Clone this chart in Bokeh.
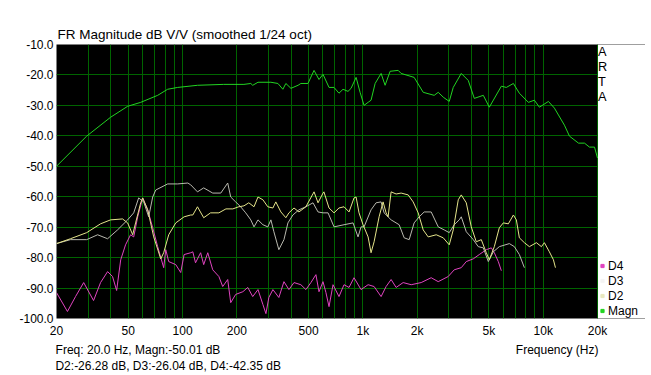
from bokeh.plotting import figure
from bokeh.models import (Range1d, FixedTicker, PrintfTickFormatter, Title, LogAxis,
                          Legend, LegendItem, BoxAnnotation)
from bokeh.embed import file_html
from bokeh.resources import INLINE

# ---------------- data ----------------
magn_freq = [20, 29.4, 39.9, 49.6, 58.6, 72.8, 82.7, 94.0, 121, 169, 219, 239, 245, 262,
             309, 338, 360, 374, 399, 437, 453, 496, 536, 571, 601, 649, 692, 737, 776,
             827, 860, 917, 965, 1015, 1069, 1110, 1169, 1262, 1328, 1416, 1569, 1630,
             1924, 2160, 2486, 2617, 2790, 3012, 3170, 3512, 3840, 4148, 4654, 5024,
             5858, 6245, 6832, 7375, 8274, 8934, 9525, 10690, 11540, 13110, 13980,
             15690, 16940, 18050, 19250, 20000]
magn_db = [-50.0, -40.1, -33.9, -30.3, -29.0, -26.7, -24.7, -24.1, -23.4, -23.1, -23.1,
           -22.8, -23.4, -22.4, -22.4, -22.8, -24.7, -22.8, -24.4, -23.4, -22.8, -22.8,
           -18.5, -21.5, -19.8, -24.1, -24.1, -26.0, -24.7, -25.4, -24.4, -20.8, -25.7,
           -30.0, -29.0, -28.3, -22.8, -19.5, -23.4, -18.8, -18.5, -19.5, -20.8, -25.7,
           -26.7, -25.7, -27.3, -28.7, -24.1, -19.5, -21.8, -27.7, -26.7, -30.6, -23.7,
           -24.1, -22.8, -26.0, -29.0, -28.3, -30.6, -28.7, -30.9, -36.5, -40.1, -42.4,
           -42.4, -43.7, -43.7, -47.3]

d2_freq = [20, 23.9, 29.4, 35.1, 39.9, 46.5, 49.6, 52.9, 54.9, 58.6, 60.1, 64.1, 69.2,
           75.7, 78.6, 83.8, 91.7, 102, 111, 114, 121, 131, 143, 159, 174, 190, 205, 219,
           233, 249, 262, 279, 297, 317, 329, 351, 374, 389, 415, 442, 483, 536, 564, 601,
           608, 649, 692, 737, 786, 838, 893, 917, 952, 1002, 1069, 1110, 1154, 1230,
           1294, 1345, 1380, 1434, 1529, 1630, 1783, 1900, 2026, 2160, 2302, 2551, 2790,
           3012, 3170, 3380, 3512, 3744, 3991, 4254, 4535, 4834, 5024, 5356, 5708, 6010,
           6406, 6832, 7096, 7375, 7862, 8380, 9166, 9772, 10150, 10820, 11390, 11690]
d2_db = [-75.4, -73.8, -71.8, -68.9, -67.6, -67.3, -68.6, -72.5, -68.6, -62.0, -60.4,
         -64.3, -73.2, -80.4, -78.4, -72.5, -68.6, -66.6, -66.0, -66.0, -63.3, -66.9, -65.3,
         -65.3, -64.0, -64.0, -63.3, -63.0, -62.0, -63.3, -60.1, -61.0, -63.3, -63.7,
         -61.7, -65.0, -66.9, -65.3, -63.7, -65.0, -63.3, -58.4, -62.0, -58.8, -58.4,
         -63.7, -65.3, -63.7, -63.3, -65.0, -60.4, -60.1, -65.3, -69.2, -73.2, -78.4,
         -74.8, -66.6, -61.7, -65.3, -66.6, -58.4, -59.1, -58.8, -59.4, -61.7, -65.3,
         -70.9, -73.2, -72.5, -73.5, -75.8, -70.9, -61.0, -59.4, -62.0, -69.9, -74.8,
         -74.1, -78.4, -80.7, -76.4, -70.2, -68.6, -68.9, -66.0, -67.6, -73.5, -75.1,
         -76.4, -75.1, -76.4, -75.1, -78.1, -80.7, -83.3]

d3_freq = [20, 23.9, 29.4, 33.8, 38.4, 43.6, 49.6, 53.6, 57.1, 60.9, 64.9, 68.3, 71.0,
           82.7, 94.0, 107, 111, 121, 131, 147, 163, 178, 185, 197, 210, 224, 239, 249,
           262, 279, 297, 309, 321, 342, 365, 384, 409, 442, 483, 529, 564, 601, 641, 692,
           786, 882, 940, 977, 1015, 1110, 1184, 1262, 1311, 1434, 1589, 1694, 1806, 1924,
           2052, 2188, 2392, 2617, 2825, 3012, 3211, 3422, 3512, 3744, 4094, 4364, 4654,
           4960, 5288, 5708, 6488, 6918, 7375, 7862]
d3_db = [-75.4, -74.1, -74.1, -72.5, -73.8, -70.9, -67.6, -65.3, -60.4, -61.7, -66.6,
         -60.1, -57.8, -55.8, -55.8, -55.5, -56.1, -58.4, -57.1, -58.8, -58.8, -55.5,
         -60.1, -61.7, -63.3, -65.3, -67.6, -69.9, -67.6, -69.2, -69.9, -67.6, -71.5,
         -77.4, -74.1, -68.6, -66.0, -64.3, -63.3, -62.0, -65.0, -65.3, -65.3, -69.9,
         -69.2, -68.6, -73.2, -69.9, -69.9, -64.3, -62.0, -61.7, -65.3, -67.6, -69.2,
         -73.5, -74.1, -68.6, -66.6, -65.0, -65.0, -69.9, -70.9, -71.8, -69.2, -67.6,
         -66.6, -71.5, -74.1, -76.4, -76.8, -81.3, -78.1, -76.4, -75.4, -76.4, -79.0,
         -83.3]

d4_freq = [20, 23.0, 25.5, 28.3, 32.1, 35.1, 38.4, 40.9, 43.1, 45.4, 48.3, 51.5, 53.6,
           56.4, 60.1, 64.1, 68.3, 72.8, 78.6, 80.7, 83.8, 91.7, 97.7, 102, 111, 114, 118,
           126, 131, 138, 147, 159, 167, 178, 185, 197, 216, 230, 245, 262, 279, 290, 301,
           317, 342, 365, 389, 415, 453, 483, 515, 549, 571, 601, 624, 649, 683, 737, 786,
           838, 893, 977, 1069, 1154, 1262, 1345, 1434, 1529, 1672, 1853, 2105, 2392,
           2617, 2974, 3211, 3512, 3744, 4094, 4419, 4834, 5154, 5356, 5636, 5858]
d4_db = [-91.5, -97.7, -92.8, -88.2, -94.1, -88.2, -84.6, -86.2, -90.8, -80.7, -75.8,
         -72.5, -73.2, -66.6, -60.4, -64.3, -70.2, -76.4, -83.3, -77.4, -81.3, -82.3,
         -84.9, -79.0, -78.4, -78.1, -81.7, -78.4, -82.3, -78.4, -84.0, -86.2, -89.5,
         -87.2, -94.8, -92.1, -91.2, -89.8, -92.8, -90.5, -95.4, -98.4, -93.1, -90.5,
         -93.1, -87.9, -90.5, -88.2, -88.9, -90.5, -88.2, -85.6, -91.2, -87.9, -91.5,
         -96.1, -88.9, -92.8, -88.9, -89.8, -86.6, -90.5, -88.9, -89.5, -92.8, -89.5,
         -87.2, -89.8, -88.2, -88.9, -88.2, -86.6, -87.9, -86.2, -84.0, -83.3, -81.3,
         -80.4, -79.0, -77.4, -76.8, -78.4, -81.3, -84.3]

x_label_ticks = [20, 50, 100, 200, 500, 1000, 2000, 5000, 10000, 20000]
x_label_text = ["20", "50", "100", "200", "500", "1k", "2k", "5k", "10k", "20k"]
x_grid_ticks = [20, 30, 40, 50, 60, 70, 80, 90, 100, 200, 300, 400, 500, 600, 700, 800,
                900, 1000, 2000, 3000, 4000, 5000, 6000, 7000, 8000, 9000, 10000, 20000]
y_ticks = [-10, -20, -30, -40, -50, -60, -70, -80, -90, -100]
f_min, f_max = 20, 20000
db_min, db_max = -100, -10

title_text = "FR Magnitude dB V/V (smoothed 1/24 oct)"
info_line1 = "Freq: 20.0 Hz, Magn:-50.01 dB"
info_line2 = "D2:-26.28 dB, D3:-26.04 dB, D4:-42.35 dB"
x_title = "Frequency (Hz)"
brand = ["A", "R", "T", "A"]
legend_names = ["D4", "D3", "D2", "Magn"]

# ---------------- styles / layout ----------------
C_MAGN = "#22d422"
C_D2 = "#e4e48a"
C_D3 = "#b8b8ae"
C_D4 = "#e044c0"
C_GRID = "#006400"
FONT = "Liberation Sans"

FIG_W, FIG_H = 645, 375
LEFT, TOP, BOTTOM = 56, 44, 56
PLOT_W = 541                      # width of the black plotting area (px)
FRAME_W = FIG_W - LEFT            # frame also spans the white side strip
PX_PER_DEC = PLOT_W / 3.0
x_end = f_min * 10 ** (FRAME_W / PX_PER_DEC)
strip_left = f_max * 10 ** (0.5 / PX_PER_DEC)

def x_at(px):                     # layout helper: frame pixel -> x position
    return f_min * 10 ** (px / PX_PER_DEC)

p = figure(width=FIG_W, height=FIG_H, x_axis_type="log", output_backend="svg",
           toolbar_location=None, x_range=Range1d(f_min, x_end),
           y_range=Range1d(db_min, db_max),
           min_border_left=LEFT, min_border_right=0, min_border_top=TOP,
           min_border_bottom=BOTTOM)
p.background_fill_color = "black"
p.border_fill_color = "white"
p.outline_line_color = None

p.title = Title(text=title_text, align="left", offset=1, standoff=5,
                text_font=FONT, text_font_size="13.5px", text_font_style="normal",
                text_color="black")

def style_axis(ax, standoff):
    ax.axis_line_color = None
    ax.major_tick_line_color = None
    ax.minor_tick_line_color = None
    ax.major_tick_out = 0
    ax.major_tick_in = 0
    ax.minor_tick_out = 0
    ax.minor_tick_in = 0
    ax.major_label_text_font = FONT
    ax.major_label_text_font_size = "12px"
    ax.major_label_text_color = "black"
    ax.major_label_standoff = standoff

style_axis(p.xaxis[0], 5)
style_axis(p.yaxis[0], 3)
p.xaxis.ticker = FixedTicker(ticks=x_label_ticks, minor_ticks=[])
p.xaxis.major_label_overrides = {t: s for t, s in zip(x_label_ticks, x_label_text)}
p.yaxis.ticker = FixedTicker(ticks=y_ticks, minor_ticks=[])
p.yaxis.formatter = PrintfTickFormatter(format="%.1f")

# text rows under the x axis (labels centred on layout positions)
info_pos = x_at(81.5)
xtitle_pos = x_at(500.7)
line2_pos = x_at(111.7)
row1 = LogAxis(ticker=FixedTicker(ticks=[info_pos, xtitle_pos], minor_ticks=[]),
               major_label_overrides={info_pos: info_line1, xtitle_pos: x_title})
style_axis(row1, 2)
p.add_layout(row1, "below")
row2 = LogAxis(ticker=FixedTicker(ticks=[line2_pos], minor_ticks=[]),
               major_label_overrides={line2_pos: info_line2})
style_axis(row2, -1)
p.add_layout(row2, "below")

p.xgrid.ticker = FixedTicker(ticks=x_grid_ticks, minor_ticks=[])
p.ygrid.ticker = FixedTicker(ticks=y_ticks, minor_ticks=[])
for g in (p.xgrid[0], p.ygrid[0]):
    g.grid_line_color = C_GRID
    g.grid_line_width = 1

# white strip right of 20 kHz (holds the ARTA mark and the legend)
p.add_layout(BoxAnnotation(left=strip_left, fill_color="white", fill_alpha=1,
                           line_color=None, level="underlay"))

# curves
p.line(d4_freq, d4_db, line_color=C_D4, line_width=1)
p.line(d3_freq, d3_db, line_color=C_D3, line_width=1)
p.line(d2_freq, d2_db, line_color=C_D2, line_width=1)
p.line(magn_freq, magn_db, line_color=C_MAGN, line_width=1)

# legend swatches (renderers without drawable points)
nan = float("nan")
marker_colors = [C_D4, "#f4f4f4", "#e8e8c0", C_MAGN]
items = []
for name, col in zip(legend_names, marker_colors):
    r = p.scatter(x=[nan], y=[nan], marker="square", size=3,
                  fill_color=col, line_color=col)
    items.append(LegendItem(label=name, renderers=[r]))
legend = Legend(items=items, location=(PLOT_W + 1, 0), margin=0, padding=0,
                spacing=0, glyph_width=8, glyph_height=15, label_height=15,
                label_standoff=2, border_line_color=None, background_fill_alpha=0,
                label_text_font=FONT, label_text_font_size="12px",
                label_text_color="black",
                title="\n".join(brand), title_text_font=FONT,
                title_text_font_size="12.75px", title_text_font_style="normal",
                title_text_color="black", title_standoff=154)
p.add_layout(legend, "center")

open("out.html", "w").write(file_html(p, INLINE))
